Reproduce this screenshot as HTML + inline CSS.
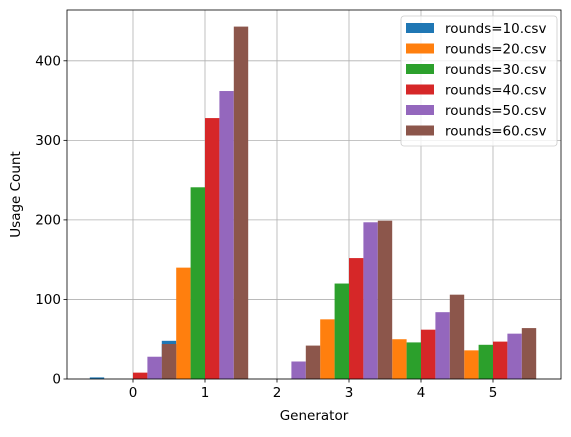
<!DOCTYPE html>
<html><head><meta charset="utf-8"><style>
body{margin:0;background:#fff;}
svg{font-family:"DejaVu Sans","Liberation Sans",sans-serif;}
</style></head><body>
<svg id="chart" width="571" height="432">
<g id="grid"></g><g id="bars"></g><g id="axes"></g><g id="legend"></g>
</svg>
<script>
const categories=[0,1,2,3,4,5];
const seriesNames=["rounds=10.csv","rounds=20.csv","rounds=30.csv","rounds=40.csv","rounds=50.csv","rounds=60.csv"];
const colors=["#1f77b4","#ff7f0e","#2ca02c","#d62728","#9467bd","#8c564b"];
const r10=[2,48,0,0,0,0];
const r20=[0,140,0,75,50,36];
const r30=[0,241,0,120,46,43];
const r40=[8,328,0,152,62,47];
const r50=[28,362,22,197,84,57];
const r60=[44,443,42,199,106,64];
const series=[r10,r20,r30,r40,r50,r60];
const yTicks=[0,100,200,300,400];
const NS="http://www.w3.org/2000/svg";
const L=67,R=561,T=10,B=379;
const FS=13.5;
const xs=v=>133+v*72;
const ys=v=>379-v*0.7955;
function mk(t,a,p){const e=document.createElementNS(NS,t);for(const k in a)e.setAttribute(k,a[k]);p.appendChild(e);return e;}
const grid=document.getElementById('grid'),bars=document.getElementById('bars'),axes=document.getElementById('axes'),leg=document.getElementById('legend');
categories.forEach(c=>{const l=mk('line',{x1:xs(c),x2:xs(c),y1:T,y2:B,stroke:'#b0b0b0','stroke-width':0.8},grid);
});
yTicks.forEach(v=>{const l=mk('line',{x1:L,x2:R,y1:ys(v),y2:ys(v),stroke:'#b0b0b0','stroke-width':0.8},grid);
});
const w=0.2;
series.forEach((s,i)=>{s.forEach((v,j)=>{const x0=xs(categories[j]+(i-2.5)*w-w/2);
const r=mk('rect',{x:x0,y:ys(v),width:w*72,height:ys(0)-ys(v),fill:colors[i]},bars);
});});
const fr=mk('rect',{x:L,y:T,width:R-L,height:B-T,fill:'none',stroke:'#000','stroke-width':0.8},axes);

categories.forEach(c=>{mk('line',{x1:xs(c),x2:xs(c),y1:B,y2:B+3.5,stroke:'#000','stroke-width':0.8},axes);
const t=mk('text',{x:xs(c),y:B+18,'font-size':FS,'text-anchor':'middle'},axes);t.textContent=c;
});
yTicks.forEach(v=>{mk('line',{x1:L-3.5,x2:L,y1:ys(v),y2:ys(v),stroke:'#000','stroke-width':0.8},axes);
const t=mk('text',{x:L-6,y:ys(v)+4.5,'font-size':FS,'text-anchor':'end'},axes);t.textContent=v;
});
const xt=mk('text',{x:(L+R)/2,y:420,'font-size':FS,'text-anchor':'middle'},axes);xt.textContent='Generator';

const yt=mk('text',{x:0,y:0,'font-size':FS,'text-anchor':'middle',transform:'translate(20,'+((T+B)/2)+') rotate(-90)'},axes);yt.textContent='Usage Count';

const lb=mk('rect',{x:401,y:16,width:156,height:130,rx:3,fill:'#fff','fill-opacity':0.8,stroke:'#ccc','stroke-width':0.8},leg);

seriesNames.forEach((n,i)=>{const y=23+i*20.5;
const g=mk('g',{},leg);
mk('rect',{x:406,y:y,width:28,height:10,fill:colors[i]},g);
const t=mk('text',{x:445,y:y+10,'font-size':FS},g);t.textContent=n;});
</script>
</body></html>
